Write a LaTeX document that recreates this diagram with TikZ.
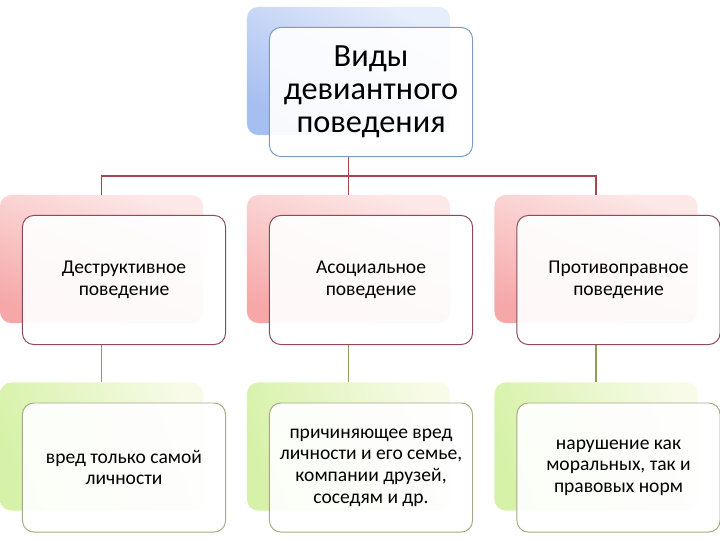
\documentclass[tikz,border=0pt]{standalone}
\usepackage{fontspec}
\setmainfont{Carlito}
\usetikzlibrary{positioning}
\definecolor{bluedark}{HTML}{A6BEF0}
\definecolor{bluelight}{HTML}{E6EDFB}
\definecolor{pinkdark}{HTML}{F6A8A8}
\definecolor{pinklight}{HTML}{FDE8E8}
\definecolor{greendark}{HTML}{D6F2A8}
\definecolor{greenlight}{HTML}{F7FBE8}
\definecolor{blueedge}{HTML}{7E9AC0}
\definecolor{mauveedge}{HTML}{8C4A5C}
\definecolor{oliveedge}{HTML}{A8A884}
\definecolor{redline}{HTML}{A8434F}
\definecolor{greenline}{HTML}{8E9C5A}

\begin{document}
\begin{tikzpicture}[
    x=0.025cm, y=-0.025cm,
    back/.style={rounded corners=8pt, minimum width=5.075cm, minimum height=3.2cm, inner sep=0pt},
    front/.style={draw, rounded corners=8pt, fill=white, fill opacity=0.92, text opacity=1,
        minimum width=5.075cm, minimum height=3.225cm, align=center, line width=0.7pt,
        font=\fontsize{13.9}{15.4}\selectfont},
    bluebox/.style={back, top color=bluelight, bottom color=bluedark, shading angle=-30},
    pinkbox/.style={back, top color=pinklight, bottom color=pinkdark, shading angle=-20},
    greenbox/.style={back, top color=greenlight, bottom color=greendark, shading angle=-70},
    link/.style={line width=1.3pt, redline},
    leaf/.style={line width=1.3pt, greenline}
]
    \useasboundingbox (0,0) rectangle (720,540);

    % Back panels
    \node[bluebox] (bt) at (348.5,71) {};
    \node[pinkbox] (b1) at (101.5,259) {};
    \node[pinkbox] (b2) at (348.5,259) {};
    \node[pinkbox] (b3) at (596,259) {};
    \node[greenbox] (c1) at (101.5,446.5) {};
    \node[greenbox] (c2) at (348.5,446.5) {};
    \node[greenbox] (c3) at (596,446.5) {};

    % Connectors
    \coordinate (hub) at (348.5,176);
    \draw[link] (bt |- 0,157) -- (hub);
    \draw[link] (b1.north) |- (hub) -| (b3.north);
    \draw[link] (hub) -- (b2.north);
    \draw[leaf] (b1 |- 0,345) -- (c1.north);
    \draw[leaf] (b2 |- 0,345) -- (c2.north);
    \draw[leaf] (b3 |- 0,345) -- (c3.north);

    % Front boxes
    \node[front, draw=blueedge, font=\fontsize{23}{23.6}\selectfont] (ft) at ([shift={(22.5,21)}]bt)
        {Виды\\девиантного\\поведения};
    \node[front, draw=mauveedge] (f1) at ([shift={(22.5,21)}]b1) {Деструктивное\\поведение};
    \node[front, draw=mauveedge] (f2) at ([shift={(22.5,21)}]b2) {Асоциальное\\поведение};
    \node[front, draw=mauveedge] (f3) at ([shift={(22.5,21)}]b3) {Противоправное\\поведение};
    \node[front, draw=oliveedge] (g1) at ([shift={(22.5,21)}]c1) {вред только самой\\личности};
    \node[front, draw=oliveedge] (g2) at ([shift={(22.5,21)}]c2)
        {причиняющее вред\\личности и его семье,\\компании друзей,\\соседям и др.};
    \node[front, draw=oliveedge] (g3) at ([shift={(22.5,21)}]c3)
        {нарушение как\\моральных, так и\\правовых норм};
\end{tikzpicture}
\end{document}
